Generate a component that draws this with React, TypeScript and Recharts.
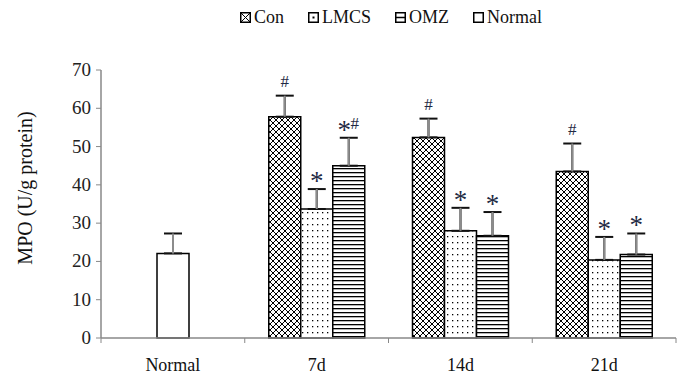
import { BarChart, Bar, XAxis, YAxis, ErrorBar, LabelList, Legend } from "recharts";

const CATEGORIES = ["Normal", "7d", "14d", "21d"];

const CON = [null, 57.8, 52.4, 43.5];
const CON_ERR = [null, 5.5, 4.9, 7.3];
const CON_MARK = ["", "#", "#", "#"];

const LMCS = [null, 33.7, 28.0, 20.4];
const LMCS_ERR = [null, 5.2, 6.0, 6.0];
const LMCS_MARK = ["", "*", "*", "*"];

const OMZ = [null, 45.0, 26.7, 21.8];
const OMZ_ERR = [null, 7.3, 6.2, 5.5];
const OMZ_MARK = ["", "*#", "*", "*"];

const NORMAL = [22.1, null, null, null];
const NORMAL_ERR = [5.2, null, null, null];

const Y_TICKS = [0, 10, 20, 30, 40, 50, 60, 70];
const LEGEND_ORDER = ["Con", "LMCS", "OMZ", "Normal"];

const FONT = '"Liberation Serif", "Times New Roman", serif';
const AXIS = "#888888";

const upErr = (v: number | null) => (v == null ? undefined : [0, v]);

const data = CATEGORIES.map((name, i) => ({
  name,
  con: CON[i],
  conErr: upErr(CON_ERR[i]),
  lmcs: LMCS[i],
  lmcsErr: upErr(LMCS_ERR[i]),
  omz: OMZ[i],
  omzErr: upErr(OMZ_ERR[i]),
  normal: NORMAL[i],
  normalErr: upErr(NORMAL_ERR[i]),
}));

// "#" / "*" significance marks, set just above the error bar cap
const markRenderer =
  (values: (number | null)[], errs: (number | null)[], marks: string[]) => (props: any) => {
    const { x, y, width, height, value } = props;
    const i = CATEGORIES.indexOf(String(value));
    const v = values[i];
    const e = errs[i];
    const mark = marks[i];
    if (i < 0 || !mark || v == null || e == null || !height) return null;
    const capY = y - (e / v) * height;
    const chars = mark.split("");
    const sizes = chars.map((c) => (c === "*" ? 12 : 9));
    const total = sizes.reduce((a, b) => a + b, 0);
    let cx = x + width / 2 - total / 2;
    return (
      <g>
        {chars.map((c, k) => {
          const left = cx;
          cx += sizes[k];
          return (
            <text
              key={k}
              x={left + sizes[k] / 2}
              y={c === "*" ? capY + 1 : capY - 9}
              textAnchor="middle"
              fontFamily={FONT}
              fontSize={c === "*" ? 27 : 17}
              fill="#1f2a44"
            >
              {c}
            </text>
          );
        })}
      </g>
    );
  };

const CategoryTick = (props: any) => {
  const { x, y, payload, index, visibleTicksCount } = props;
  const half = payload?.offset ?? 0;
  return (
    <g>
      <line x1={x - half} x2={x - half} y1={y - 5} y2={y} stroke={AXIS} />
      {index === visibleTicksCount - 1 && (
        <line x1={x + half} x2={x + half} y1={y - 5} y2={y} stroke={AXIS} />
      )}
      <text x={x} y={y + 28} textAnchor="middle" fontFamily={FONT} fontSize={18} fill="#111">
        {payload.value}
      </text>
    </g>
  );
};

const ValueTick = (props: any) => {
  const { x, y, payload } = props;
  return (
    <text x={x} y={y} dy={6} textAnchor="end" fontFamily={FONT} fontSize={19} fill="#222">
      {payload.value}
    </text>
  );
};

const LegendIcon = ({ name }: { name: string }) => (
  <svg width={11} height={11} style={{ marginRight: 3 }}>
    <rect x={0.75} y={0.75} width={9.5} height={9.5} fill="#fff" stroke="#000" strokeWidth={1.5} />
    {name === "Con" && <path d="M1,1 L10,10 M10,1 L1,10" stroke="#000" strokeWidth={1} />}
    {name === "LMCS" && <rect x={4.5} y={4.5} width={2} height={2} fill="#000" />}
    {name === "OMZ" && <line x1={1} x2={10} y1={5.5} y2={5.5} stroke="#000" strokeWidth={1.5} />}
  </svg>
);

const renderLegend = (props: any) => {
  const payload = props.payload || [];
  const items = LEGEND_ORDER.filter((n) => payload.some((p: any) => p.value === n));
  return (
    <div
      style={{
        height: 70,
        boxSizing: "border-box",
        paddingTop: 7,
        paddingLeft: 100,
        display: "flex",
        justifyContent: "center",
        alignItems: "flex-start",
        fontFamily: FONT,
        fontSize: 18,
        color: "#111",
        lineHeight: "21px",
      }}
    >
      {items.map((n) => (
        <div key={n} style={{ display: "flex", alignItems: "center", margin: "0 12px" }}>
          <LegendIcon name={n} />
          <span>{n}</span>
        </div>
      ))}
    </div>
  );
};

const YLabel = (props: any) => {
  const vb = props.viewBox || { x: 0, y: 70, width: 101, height: 268 };
  const cx = vb.x + 25;
  const cy = vb.y + vb.height / 2 - 16;
  return (
    <text
      x={cx}
      y={cy}
      transform={`rotate(-90, ${cx}, ${cy})`}
      textAnchor="middle"
      dominantBaseline="central"
      fontFamily={FONT}
      fontSize={20}
      fill="#111"
    >
      MPO (U/g protein)
    </text>
  );
};

export default function App() {
  return (
    <div style={{ position: "absolute", left: 0, top: 0, background: "#fff" }}>
      <BarChart
        width={682}
        height={381}
        data={data}
        margin={{ top: 0, right: 6, bottom: 0, left: 0 }}
        barCategoryGap={24}
        barGap={0}
      >
        <defs>
          <pattern id="patCon" width="6" height="6" patternUnits="userSpaceOnUse">
            <rect width="6" height="6" fill="#fff" />
            <path d="M0,0 L6,6 M6,0 L0,6" stroke="#000" strokeWidth="1" />
          </pattern>
          <pattern id="patLmcs" width="5" height="6" patternUnits="userSpaceOnUse">
            <rect width="5" height="6" fill="#fff" />
            <rect x="2" y="2" width="1.3" height="1.3" fill="#000" />
          </pattern>
          <pattern id="patOmz" width="4" height="4" patternUnits="userSpaceOnUse">
            <rect width="4" height="4" fill="#fff" />
            <rect x="0" y="0" width="4" height="1.3" fill="#000" />
          </pattern>
        </defs>
        <Legend verticalAlign="top" content={renderLegend} wrapperStyle={{ top: 0, left: 0, width: 682 }} />
        <XAxis
          dataKey="name"
          height={43}
          axisLine={{ stroke: AXIS, strokeWidth: 1.5 }}
          tickLine={false}
          tickSize={5}
          tickMargin={0}
          tick={<CategoryTick />}
          interval={0}
        />
        <YAxis
          width={101}
          domain={[0, 70]}
          ticks={Y_TICKS}
          interval={0}
          axisLine={{ stroke: AXIS, strokeWidth: 1.5 }}
          tickLine={{ stroke: AXIS }}
          tickSize={5}
          tickMargin={5}
          tick={<ValueTick />}
          label={<YLabel />}
        />
        <Bar dataKey="con" name="Con" stackId="a" fill="url(#patCon)" stroke="#000" strokeWidth={1.5} isAnimationActive={false}>
          <ErrorBar dataKey="conErr" direction="y" width={9} strokeWidth={2} stroke="#111" />
          <ErrorBar dataKey="conErr" direction="y" width={0} strokeWidth={2} stroke="#8c8c8c" />
          <LabelList dataKey="name" content={markRenderer(CON, CON_ERR, CON_MARK)} />
        </Bar>
        <Bar dataKey="lmcs" name="LMCS" stackId="b" fill="url(#patLmcs)" stroke="#000" strokeWidth={1.5} isAnimationActive={false}>
          <ErrorBar dataKey="lmcsErr" direction="y" width={9} strokeWidth={2} stroke="#111" />
          <ErrorBar dataKey="lmcsErr" direction="y" width={0} strokeWidth={2} stroke="#8c8c8c" />
          <LabelList dataKey="name" content={markRenderer(LMCS, LMCS_ERR, LMCS_MARK)} />
        </Bar>
        <Bar dataKey="normal" name="Normal" stackId="b" fill="#fff" stroke="#000" strokeWidth={1.5} isAnimationActive={false}>
          <ErrorBar dataKey="normalErr" direction="y" width={9} strokeWidth={2} stroke="#111" />
          <ErrorBar dataKey="normalErr" direction="y" width={0} strokeWidth={2} stroke="#8c8c8c" />
        </Bar>
        <Bar dataKey="omz" name="OMZ" stackId="c" fill="url(#patOmz)" stroke="#000" strokeWidth={1.5} isAnimationActive={false}>
          <ErrorBar dataKey="omzErr" direction="y" width={9} strokeWidth={2} stroke="#111" />
          <ErrorBar dataKey="omzErr" direction="y" width={0} strokeWidth={2} stroke="#8c8c8c" />
          <LabelList dataKey="name" content={markRenderer(OMZ, OMZ_ERR, OMZ_MARK)} />
        </Bar>
      </BarChart>
    </div>
  );
}
